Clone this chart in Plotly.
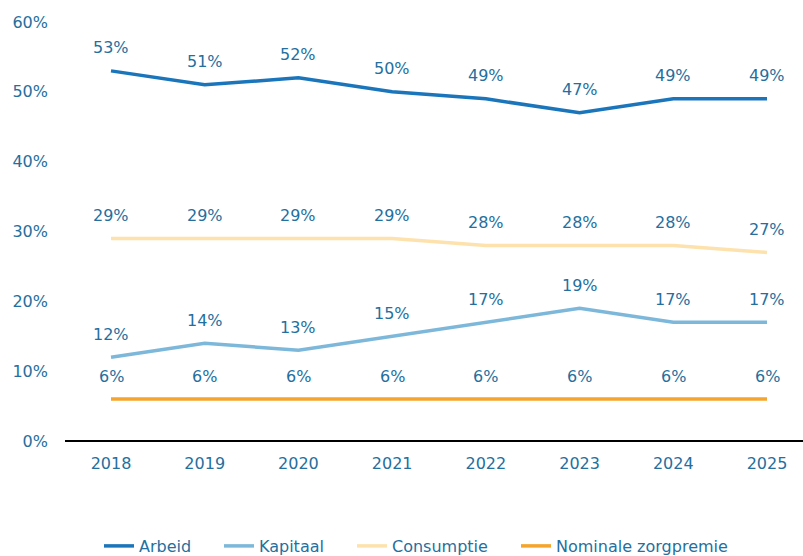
import plotly.graph_objects as go

years = [2018, 2019, 2020, 2021, 2022, 2023, 2024, 2025]
arbeid = [53, 51, 52, 50, 49, 47, 49, 49]
kapitaal = [12, 14, 13, 15, 17, 19, 17, 17]
consumptie = [29, 29, 29, 29, 28, 28, 28, 27]
zorgpremie = [6, 6, 6, 6, 6, 6, 6, 6]
y_ticks = [0, 10, 20, 30, 40, 50, 60]
y_tick_labels = ["0%", "10%", "20%", "30%", "40%", "50%", "60%"]

series = [
    ("Arbeid", arbeid, "#1b75bb", "legend", 99),
    ("Kapitaal", kapitaal, "#7db8da", "legend2", 219),
    ("Consumptie", consumptie, "#fde2ad", "legend3", 352),
    ("Nominale zorgpremie", zorgpremie, "#f5a52c", "legend4", 516),
]

txt_color = "#246f9e"
fig = go.Figure()
annotations = []
legends = {}
for name, vals, col, leg, lx in series:
    fig.add_trace(go.Scatter(x=years, y=vals, name=name, mode="lines",
                             legend=leg, line=dict(color=col, width=3.5)))
    legends[leg] = dict(orientation="h", x=lx / 803, xanchor="left", xref="container",
                        yref="container", y=0.018, yanchor="middle",
                        font=dict(family="DejaVu Sans", size=16, color=txt_color),
                        itemwidth=30, bgcolor="rgba(0,0,0,0)")
    for x, v in zip(years, vals):
        annotations.append(dict(x=x, y=v, text=f"{v}%", showarrow=False,
                                yshift=23, font=dict(size=16, color=txt_color,
                                                     family="DejaVu Sans")))

fig.update_layout(
    width=803, height=556,
    margin=dict(l=65, r=0, t=22, b=115),
    plot_bgcolor="white", paper_bgcolor="white",
    font=dict(family="DejaVu Sans", size=16, color=txt_color),
    annotations=annotations,
    showlegend=True,
    xaxis=dict(range=[2018 - 0.491, 2025 + 0.384], tickvals=years,
               ticktext=[str(y) for y in years], showgrid=False, zeroline=False,
               showline=False, ticks="", ticklabelstandoff=11,
               tickfont=dict(size=16, color=txt_color)),
    yaxis=dict(range=[0, 60], tickvals=y_ticks, ticktext=y_tick_labels,
               showgrid=False, zeroline=True, zerolinecolor="black", zerolinewidth=2,
               showline=False, ticks="", ticklabelstandoff=16,
               tickfont=dict(size=16, color=txt_color)),
    **legends,
)
fig.write_html("out.html", config={"displayModeBar": False},
               post_script="document.body.style.margin='0px';")
